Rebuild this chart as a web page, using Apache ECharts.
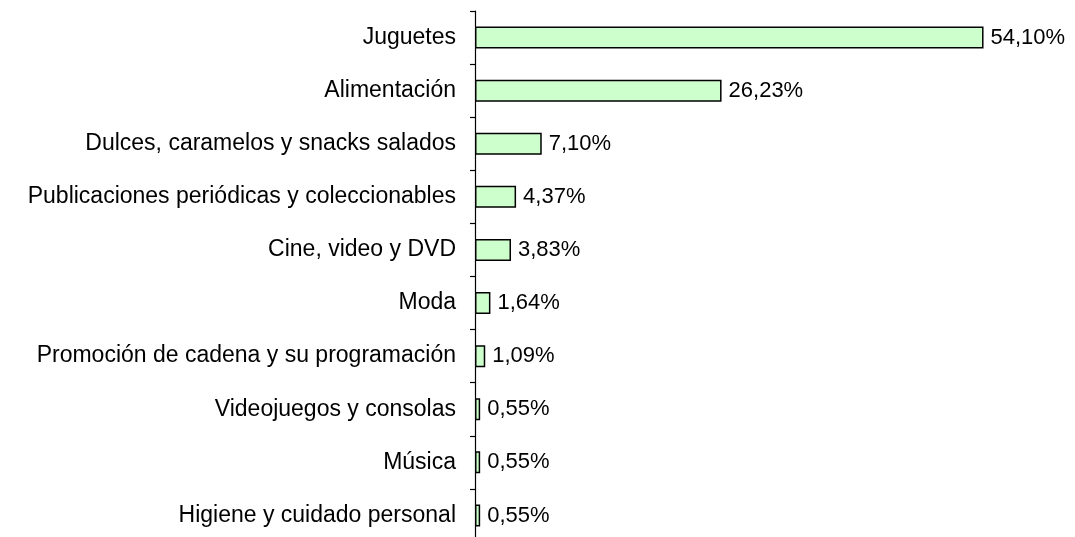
<!DOCTYPE html>
<html>
<head>
<meta charset="utf-8">
<script src="https://cdn.jsdelivr.net/npm/echarts@6/dist/echarts.min.js"></script>
<style>
  html, body { margin: 0; padding: 0; background: #fff; }
  #chart { width: 1075px; height: 537px; }
</style>
</head>
<body>
<div id="chart"></div>
<script>
var categories = [
    "Juguetes",
    "Alimentación",
    "Dulces, caramelos y snacks salados",
    "Publicaciones periódicas y coleccionables",
    "Cine, video y DVD",
    "Moda",
    "Promoción de cadena y su programación",
    "Videojuegos y consolas",
    "Música",
    "Higiene y cuidado personal"
];
var values = [54.10, 26.23, 7.10, 4.37, 3.83, 1.64, 1.09, 0.55, 0.55, 0.55];

var chart = echarts.init(document.getElementById("chart"));
var fontFam = "Liberation Sans, Arial, sans-serif";

chart.setOption({
    animation: false,
    backgroundColor: "#ffffff",
    grid: { left: 475, width: 564, top: 11, height: 531, outerBoundsMode: "none", containLabel: false },
    xAxis: {
        type: "value",
        min: 0,
        max: 60,
        show: false
    },
    yAxis: {
        type: "category",
        inverse: true,
        data: categories,
        axisLine: { show: true, lineStyle: { color: "#000", width: 1.2 } },
        axisTick: { show: true, length: 5, lineStyle: { color: "#000", width: 1.2 } },
        axisLabel: { color: "#000", fontSize: 23, fontFamily: fontFam, margin: 19 },
        splitLine: { show: false }
    },
    series: [{
        type: "bar",
        data: values,
        barWidth: 22,
        itemStyle: { color: "#ccffcc", borderColor: "#000", borderWidth: 1.5 },
        label: {
            show: true,
            position: "right",
            distance: 7,
            color: "#000",
            fontSize: 22,
            fontFamily: fontFam,
            formatter: function (p) {
                return p.value.toFixed(2).replace(".", ",") + "%";
            }
        }
    }]
});
</script>
</body>
</html>
